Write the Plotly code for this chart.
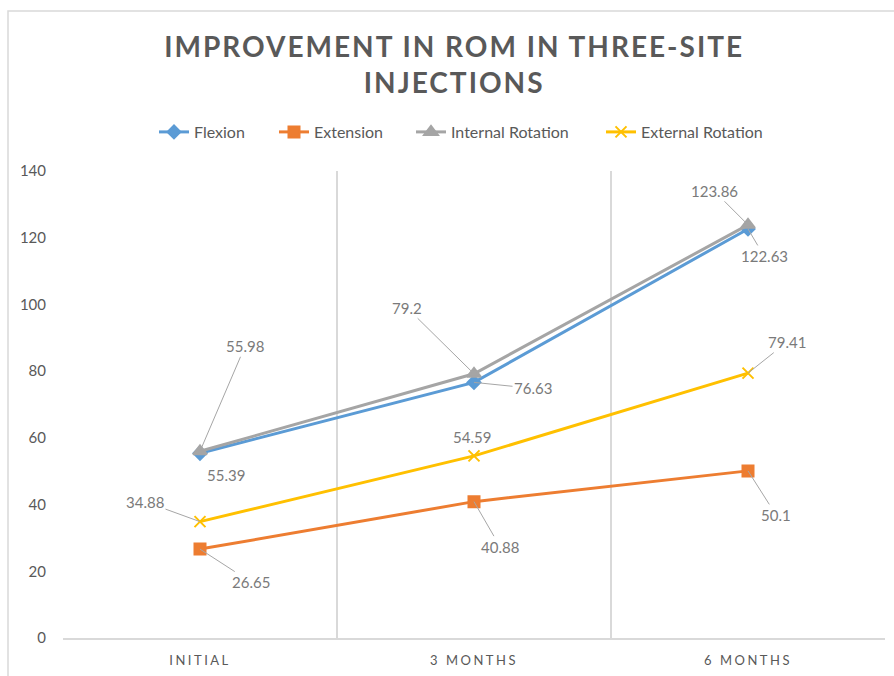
import plotly.graph_objects as go

categories = ["INITIAL", "3 MONTHS", "6 MONTHS"]
flexion = [55.39, 76.63, 122.63]
extension = [26.65, 40.88, 50.1]
internal_rot = [55.98, 79.2, 123.86]
external_rot = [34.88, 54.59, 79.41]
y_ticks = [0, 20, 40, 60, 80, 100, 120, 140]

FONT = "Lato"
TXT = "#595959"
LBL = "#7a7a7a"
GRID = "#d9d9d9"

PL, PR, PT, PB = 63, 885, 171, 638
PW, PH = PR - PL, PB - PT

def px_x(p):
    return (p - PL) / PW

def px_y(p):
    return (PB - p) / PH

fig = go.Figure()
series = [
    ("Flexion", flexion, "#5B9BD5", "diamond", 10, 159),
    ("Extension", extension, "#ED7D31", "square", 11, 279),
    ("Internal Rotation", internal_rot, "#A5A5A5", "triangle-up", 12, 416),
    ("External Rotation", external_rot, "#FFC000", "x-thin-open", 11, 606),
]
legend_layouts = {}
for k, (name, vals, col, sym, sz, lx) in enumerate(series):
    lg = "legend" if k == 0 else f"legend{k + 1}"
    fig.add_trace(go.Scatter(
        x=categories, y=vals, name=name, mode="lines+markers",
        line=dict(color=col, width=3),
        marker=dict(symbol=sym, size=sz, color=col, line=dict(color=col, width=2)),
        hoverinfo="skip", legend=lg,
    ))
    legend_layouts[lg] = dict(
        x=px_x(lx - 5), xanchor="left", y=px_y(132), yanchor="middle",
        orientation="h", font=dict(family=FONT, size=16, color=TXT),
        bgcolor="rgba(0,0,0,0)",
    )

# data labels: (series values, index, dx, dy, leader)
labels = [
    (flexion, 0, 26, 22, False),
    (internal_rot, 0, 45, -105, True),
    (extension, 0, 51, 33, True),
    (external_rot, 0, -55, -20, True),
    (internal_rot, 1, -67, -66, True),
    (flexion, 1, 59, 6, True),
    (external_rot, 1, -2, -19, False),
    (extension, 1, 26, 45, True),
    (internal_rot, 2, -34, -34, True),
    (flexion, 2, 16, 27, True),
    (external_rot, 2, 39, -31, True),
    (extension, 2, 28, 44, True),
]
for vals, i, dx, dy, lead in labels:
    v = vals[i]
    txt = f"{v:g}"
    if lead:
        fig.add_annotation(x=categories[i], y=v, text=txt, showarrow=True,
                           arrowhead=0, arrowwidth=1, arrowcolor="#a6a6a6",
                           ax=dx, ay=dy, standoff=0,
                           font=dict(family=FONT, size=15, color=LBL))
    else:
        fig.add_annotation(x=categories[i], y=v, text=txt, showarrow=False,
                           xshift=dx, yshift=-dy,
                           font=dict(family=FONT, size=15, color=LBL))

# outer chart border
fig.add_shape(type="rect", xref="paper", yref="paper",
              x0=px_x(8), x1=px_x(905), y0=px_y(690), y1=px_y(11),
              line=dict(color=GRID, width=1.5), fillcolor="rgba(0,0,0,0)", layer="below")

fig.update_layout(
    width=894, height=676,
    margin=dict(l=PL, r=894 - PR, t=PT, b=676 - PB, autoexpand=False),
    paper_bgcolor="white", plot_bgcolor="white",
    font=dict(family=FONT, color=TXT),
    title=dict(text="IMPROVEMENT IN ROM IN THREE-SITE<br>INJECTIONS",
               x=0.508, xref="container", xanchor="center",
               y=1 - 57 / 676, yref="container", yanchor="top",
               font=dict(family=FONT, size=28, color=TXT, weight="bold")),
    showlegend=True,
    hovermode=False,
    xaxis=dict(type="category", range=[-0.5, 2.5], tickson="boundaries",
               showgrid=True, gridcolor=GRID, gridwidth=1.5,
               showline=True, linecolor=GRID, linewidth=1.5,
               ticks="", ticklabelstandoff=10,
               tickfont=dict(family=FONT, size=13, color=TXT),
               zeroline=False, fixedrange=True),
    yaxis=dict(range=[0, 140], tickvals=y_ticks, showgrid=False, zeroline=False,
               showline=False, ticks="", ticklabelstandoff=16,
               tickfont=dict(family=FONT, size=15, color=TXT), fixedrange=True),
    **legend_layouts,
)

post = """
var s=document.createElement('style');
s.innerHTML='html,body{margin:0;padding:0;} .xtick text{letter-spacing:2.5px;} .gtitle{letter-spacing:2px;}';
document.head.appendChild(s);
"""
fig.write_html("out.html", post_script=post, config={"displayModeBar": False})
